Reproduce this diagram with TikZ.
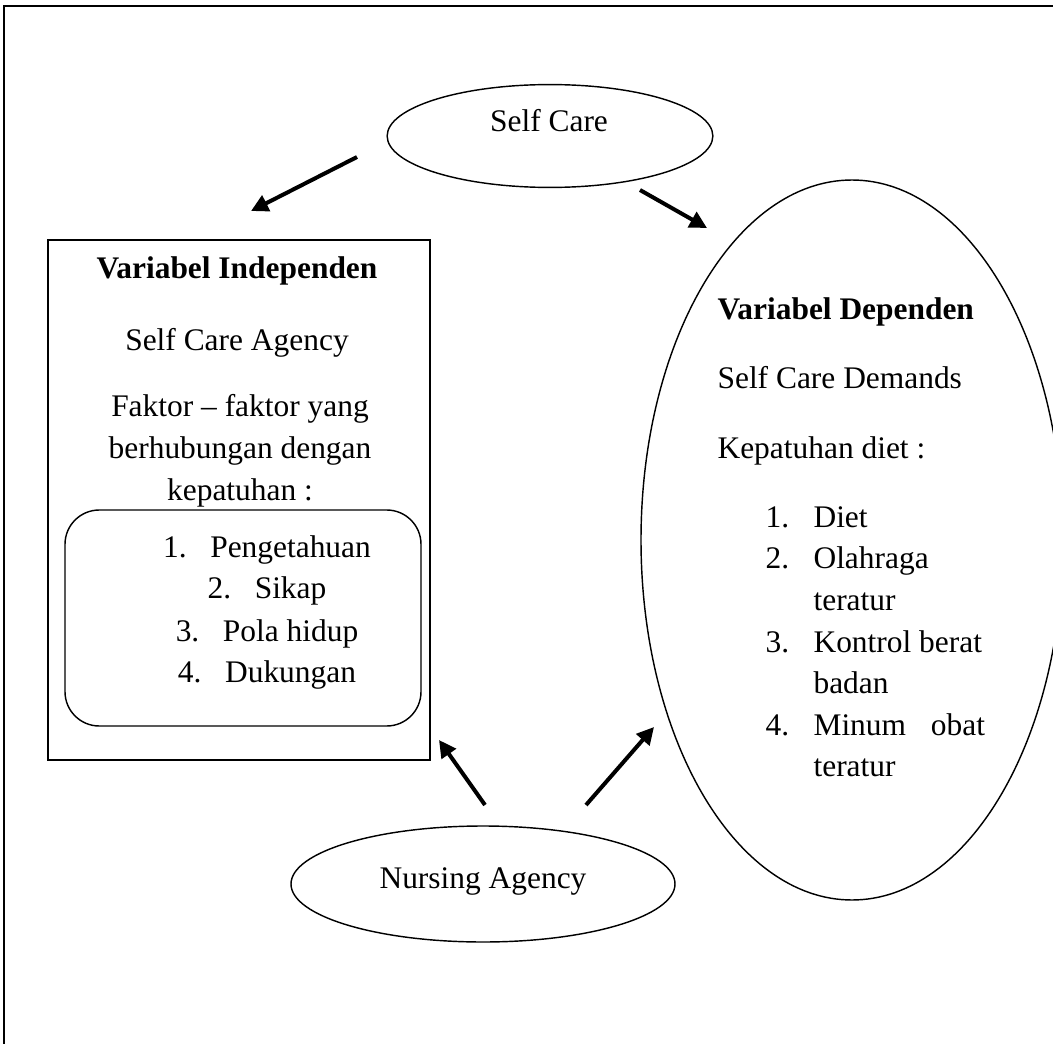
\documentclass[tikz,border=0pt]{standalone}
\usepackage{fontspec}
\setmainfont{Liberation Serif}
\usetikzlibrary{shapes.geometric,arrows.meta,positioning}

\begin{document}
\begin{tikzpicture}[x=0.35pt, y=-0.35pt,
    every node/.style={font=\fontsize{11}{14.5}\selectfont, inner sep=0pt},
    oval/.style={ellipse, draw, line width=0.5pt},
    varbox/.style={rectangle, draw, line width=0.5pt},
    listbox/.style={rectangle, draw, rounded corners=12pt, line width=0.5pt},
    txt/.style={anchor=base},
    ltxt/.style={anchor=base west},
    arrow/.style={-{Triangle[length=6pt,width=6pt]}, line width=1.4pt}
]
    \useasboundingbox (0,0) rectangle (1053,1044);
    % outer frame (runs off the page on the right and bottom)
    \draw[line width=0.7pt] (4,1044) -- (4,6) -- (1053,6);

    % Self Care
    \node[oval, minimum width=114pt, minimum height=36pt] (selfcare) at (550,136) {};
    \node[txt] (selfcaretxt) at (549,132) {Self Care};

    % Variabel Independen
    \node[varbox, minimum width=133.7pt, minimum height=182pt] (independen) at (239,500) {};
    \node[txt] (indtitle) at (237,279) {\textbf{Variabel Independen}};
    \node[txt] (agency) at (237,350) {Self Care Agency};
    \node[txt] (faktor1) at (240,416) {Faktor -- faktor yang};
    \node[txt] (faktor2) at (240,458) {berhubungan dengan};
    \node[txt] (faktor3) at (240,500) {kepatuhan :};

    \node[listbox, minimum width=124.6pt, minimum height=75.6pt] (faktorlist) at (243,618) {};
    \node[txt] (f1) at (267,557) {\makebox[16.5pt][l]{1.}Pengetahuan};
    \node[txt] (f2) at (267,598) {\makebox[16.5pt][l]{2.}Sikap};
    \node[txt] (f3) at (267,641) {\makebox[16.5pt][l]{3.}Pola hidup};
    \node[txt] (f4) at (267,682) {\makebox[16.5pt][l]{4.}Dukungan};

    % Variabel Dependen
    \node[oval, minimum width=147.7pt, minimum height=252pt] (dependen) at (852,540) {};
    \node[ltxt] (deptitle) at (717,319) {\textbf{Variabel Dependen}};
    \node[ltxt] (demands) at (717,388) {Self Care Demands};
    \node[ltxt] (diet) at (717,458) {Kepatuhan diet :};

    \node[ltxt] (d1) at (765,527) {\makebox[16.8pt][l]{1.}Diet};
    \node[ltxt] (d2) at (765,568) {\makebox[16.8pt][l]{2.}Olahraga};
    \node[ltxt] (d2b) at (813,610) {teratur};
    \node[ltxt] (d3) at (765,652) {\makebox[16.8pt][l]{3.}Kontrol berat};
    \node[ltxt] (d3b) at (813,693) {badan};
    \node[ltxt] (d4) at (765,735) {\makebox[16.8pt][l]{4.}\makebox[60pt][s]{Minum obat}};
    \node[ltxt] (d4b) at (813,776) {teratur};

    % Nursing Agency
    \node[oval, minimum width=134.4pt, minimum height=40.6pt] (nursing) at (483,884) {};
    \node[txt] (nursingtxt) at (483,888) {Nursing Agency};

    % arrows
    \coordinate (sc-out1) at (357,157);
    \coordinate (ind-in1) at (251,211);
    \coordinate (sc-out2) at (640,190);
    \coordinate (dep-in1) at (707,228);
    \coordinate (na-out1) at (485,805);
    \coordinate (ind-in2) at (439,740);
    \coordinate (na-out2) at (586,805);
    \coordinate (dep-in2) at (654,727);

    \draw[arrow] (sc-out1) -- (ind-in1);
    \draw[arrow] (sc-out2) -- (dep-in1);
    \draw[arrow] (na-out1) -- (ind-in2);
    \draw[arrow] (na-out2) -- (dep-in2);
\end{tikzpicture}
\end{document}
